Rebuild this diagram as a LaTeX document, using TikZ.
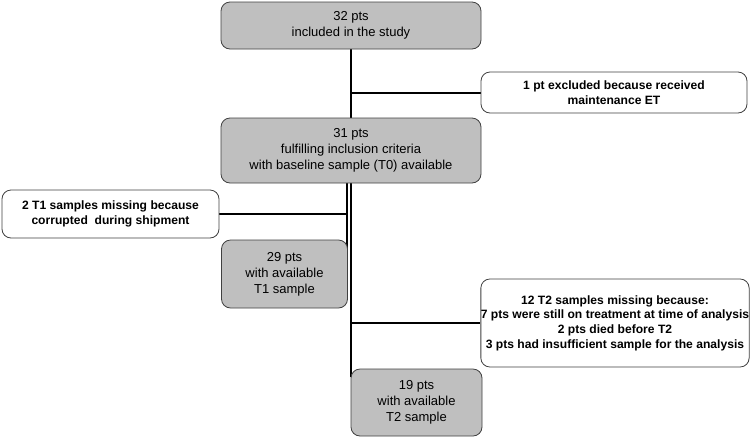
\documentclass[tikz,border=0pt]{standalone}
\usepackage{fontspec}
\setmainfont{Liberation Sans}
\usetikzlibrary{backgrounds,calc}
\begin{document}
\begin{tikzpicture}[x=1pt,y=-1pt,
  graybox/.style={draw=black!75, fill=black!25, rounded corners=9pt, line width=0.8pt, align=center, inner sep=0pt, font=\fontsize{13}{16}\selectfont},
  whitebox/.style={draw=black!75, fill=white, rounded corners=9pt, line width=0.8pt, align=center, inner sep=0pt, font=\bfseries\fontsize{12.1}{14.6}\selectfont},
  conn/.style={line width=2pt, black}]
\useasboundingbox (0,0) rectangle (750,440);
% boxes
\node[graybox, minimum width=260, minimum height=47] (b32) at (351,25.5) {32 pts\\included in the study};
\node[whitebox, minimum width=266, minimum height=41] (excl) at (614,92.5) {1 pt excluded because received\\maintenance ET};
\node[graybox, minimum width=260, minimum height=65] (b31) at (351,150.5) {31 pts\\fulfilling inclusion criteria\\with baseline sample (T0) available};
\node[whitebox, minimum width=217, minimum height=48] (t1m) at (110.5,214) {2 T1 samples missing because\\corrupted\ \ during shipment};
\node[graybox, minimum width=126, minimum height=68] (t1) at (284.5,274) {29 pts\\with available\\T1 sample};
\node[whitebox, minimum width=266, minimum height=88] (t2m) at (615,323) {12 T2 samples missing because:\\7 pts were still on treatment at time of analysis\\2 pts died before T2\\3 pts had insufficient sample for the analysis};
\node[graybox, minimum width=131, minimum height=67] (t2) at (416.5,402.5) {19 pts\\with available\\T2 sample};
% connectors (under the boxes)
\begin{scope}[on background layer]
\coordinate (vL) at ($(b31.south -| t1.east)+(-1,0)$);
\coordinate (vR) at ($(b31.south -| t2.west)+(0.5,0)$);
\draw[conn] (b32) -- (b31);
\draw[conn] (b32.south |- excl.west) -- (excl.west);
\draw[conn] (vL) -- (vL |- t1.center);
\draw[conn] (vR) -- ($(vR |- t2.north)+(0,8)$);
\draw[conn] (t1m.east) -- (t1m.east -| vL);
\draw[conn] (vR |- t2m.west) -- (t2m.west);
\end{scope}
\end{tikzpicture}
\end{document}
